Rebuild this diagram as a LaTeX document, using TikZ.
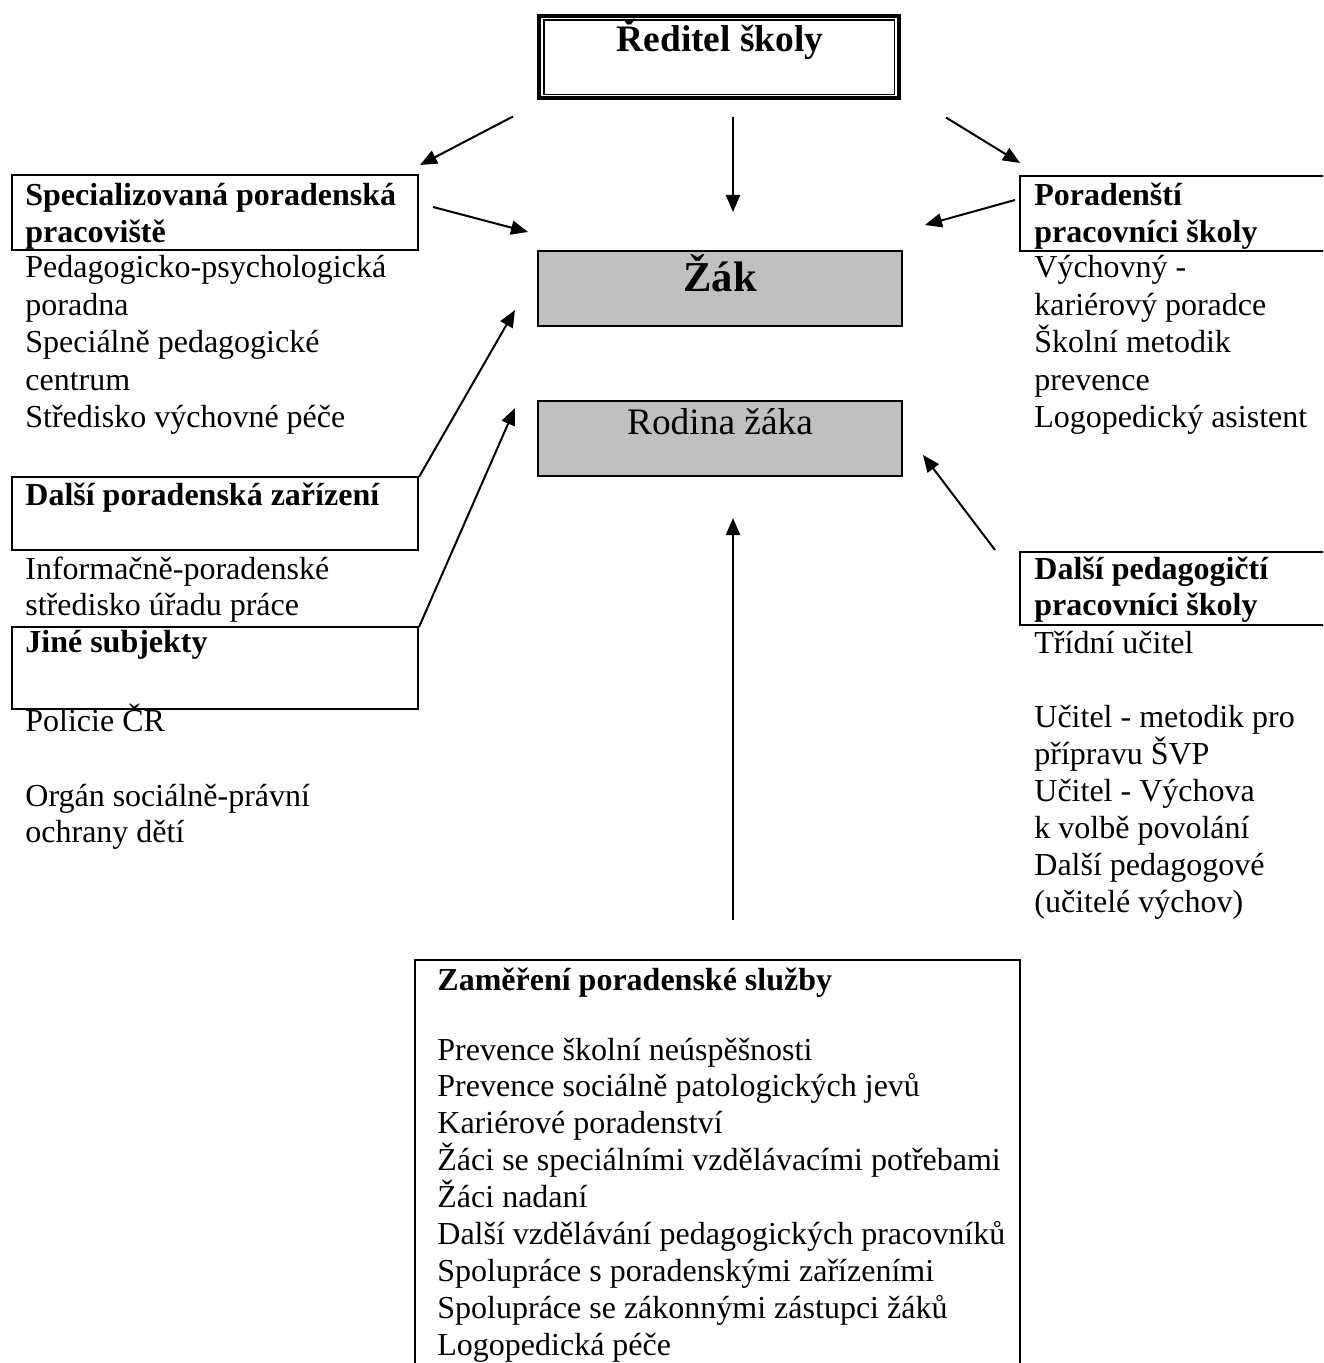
\documentclass[tikz,border=0pt]{standalone}
\usepackage{fontspec}
\setmainfont{Liberation Serif}
\usetikzlibrary{arrows.meta}
\definecolor{boxgray}{RGB}{192,192,192}

\begin{document}
\begin{tikzpicture}[
        x=0.5pt, y=-0.5pt, % 1 unit = 1 pixel of the page
        box/.style={draw, line width=1pt, anchor=north west, inner sep=0pt, outer sep=0pt},
        pupil/.style={box, fill=boxgray, minimum width=182pt, minimum height=37.5pt},
        arr/.style={-{Triangle[length=8.5pt, width=7pt]}, line width=1pt},
        txt/.style={anchor=base west, inner sep=0pt, font=\fontsize{16}{18.7}\selectfont},
        head/.style={txt, font=\fontsize{16}{18.7}\selectfont\bfseries},
    ]

    \path[use as bounding box, clip] (0,0) rectangle (1323,1363);

    % boxes
    \node[box, line width=2pt, minimum width=180pt, minimum height=41pt] (red) at (539,16) {};
    \draw[line width=0.75pt] ([shift={(5,4)}]red.north west) rectangle ([shift={(-4.5,-3.5)}]red.south east);
    \node[pupil] (zak) at (538,251) {};
    \node[pupil] (rod) at (538,401) {};
    \node[box, minimum width=203pt, minimum height=37.5pt] (spec) at (12,175) {};
    \node[box, minimum width=203pt, minimum height=36.5pt] (dpz) at (12,477) {};
    \node[box, minimum width=203pt, minimum height=41pt] (jine) at (12,627) {};
    \node[box, minimum width=160pt, minimum height=37.5pt] (por) at (1020,176) {};
    \node[box, minimum width=160pt, minimum height=36.5pt] (dped) at (1020,552) {};
    \node[box, minimum width=302.5pt, minimum height=220pt] (zam) at (415,960) {};

    % middle texts
    \node[anchor=base, inner sep=0pt, font=\fontsize{18.7}{21.5}\selectfont\bfseries] (redT) at (720,52) {Ředitel školy};
    \node[anchor=base, inner sep=0pt, font=\fontsize{21.3}{24.5}\selectfont\bfseries] (zakT) at (720,292) {Žák};
    \node[anchor=base, inner sep=0pt, font=\fontsize{18.7}{21.5}\selectfont] (rodT) at (720,435) {Rodina žáka};

    % left column
    \node[head] (specT1) at (25,205.5) {Specializovaná poradenská};
    \node[head] (specT2) at (25,242.5) {pracoviště};
    \foreach \t [count=\i from 0] in {Pedagogicko-psychologická, poradna, Speciálně pedagogické, centrum, Středisko výchovné péče}
        \node[txt] (specL\i) at (25,278+37.5*\i) {\t};
    \node[head] (dpzT) at (25,505) {Další poradenská zařízení};
    \node[txt] (dpzL0) at (25,579) {Informačně-poradenské};
    \node[txt] (dpzL1) at (25,615.5) {středisko úřadu práce};
    \node[head] (jineT) at (25,652) {Jiné subjekty};
    \foreach \y/\t [count=\i from 0] in {731/Policie ČR, 806/Orgán sociálně-právní, 842.5/ochrany dětí}
        \node[txt] (jineL\i) at (25,\y) {\t};

    % right column
    \node[head] (porT1) at (1034,205.5) {Poradenští};
    \node[head] (porT2) at (1034,242.5) {pracovníci školy};
    \foreach \t [count=\i from 0] in {Výchovný -, kariérový poradce, Školní metodik, prevence, Logopedický asistent}
        \node[txt] (porL\i) at (1034,278+37.5*\i) {\t};
    \node[head] (dpedT1) at (1034,579) {Další pedagogičtí};
    \node[head] (dpedT2) at (1034,615.5) {pracovníci školy};
    \foreach \y/\t [count=\i from 0] in {653/Třídní učitel, 727/Učitel - metodik pro, 764/přípravu ŠVP, 801/Učitel - Výchova,
            838/k volbě povolání, 875/Další pedagogové, 912/{(učitelé výchov)}}
        \node[txt] (dpedL\i) at (1034,\y) {\t};

    % bottom box
    \node[head] (zamT) at (437,990) {Zaměření poradenské služby};
    \foreach \t [count=\i from 0] in {Prevence školní neúspěšnosti, Prevence sociálně patologických jevů,
            Kariérové poradenství, Žáci se speciálními vzdělávacími potřebami, Žáci nadaní,
            Další vzdělávání pedagogických pracovníků, Spolupráce s poradenskými zařízeními,
            Spolupráce se zákonnými zástupci žáků, Logopedická péče}
        \node[txt] (zamL\i) at (437,1060+36.9*\i) {\t};

    % arrows
    \draw[arr] ([shift={(-26,18.5)}]red.south west) -- ([shift={(2,-10)}]spec.north east);
    \draw[arr] ([shift={(14,19.5)}]red.south) -- ([shift={(13,-39)}]zak.north);
    \draw[arr] ([shift={(47,19.5)}]red.south east) -- ([shift={(0,-13)}]por.north west);
    \draw[arr] ([shift={(15,-5.5)}]spec.east) -- ([shift={(-10,-19)}]zak.north west);
    \draw[arr] ([shift={(-5,-13.5)}]por.west) -- ([shift={(23,-26)}]zak.north east);
    \draw[arr] ([shift={(1,0)}]dpz.north east) -- ([shift={(-23,-16)}]zak.south west);
    \draw[arr] ([shift={(1,0)}]jine.north east) -- ([shift={(-23,7)}]rod.north west);
    \draw[arr] ([shift={(-25,-2)}]dped.north west) -- ([shift={(21,16.5)}]rod.east);
    \draw[arr] ([shift={(15.5,-40)}]zam.north) -- ([shift={(13,42)}]rod.south);
\end{tikzpicture}
\end{document}
